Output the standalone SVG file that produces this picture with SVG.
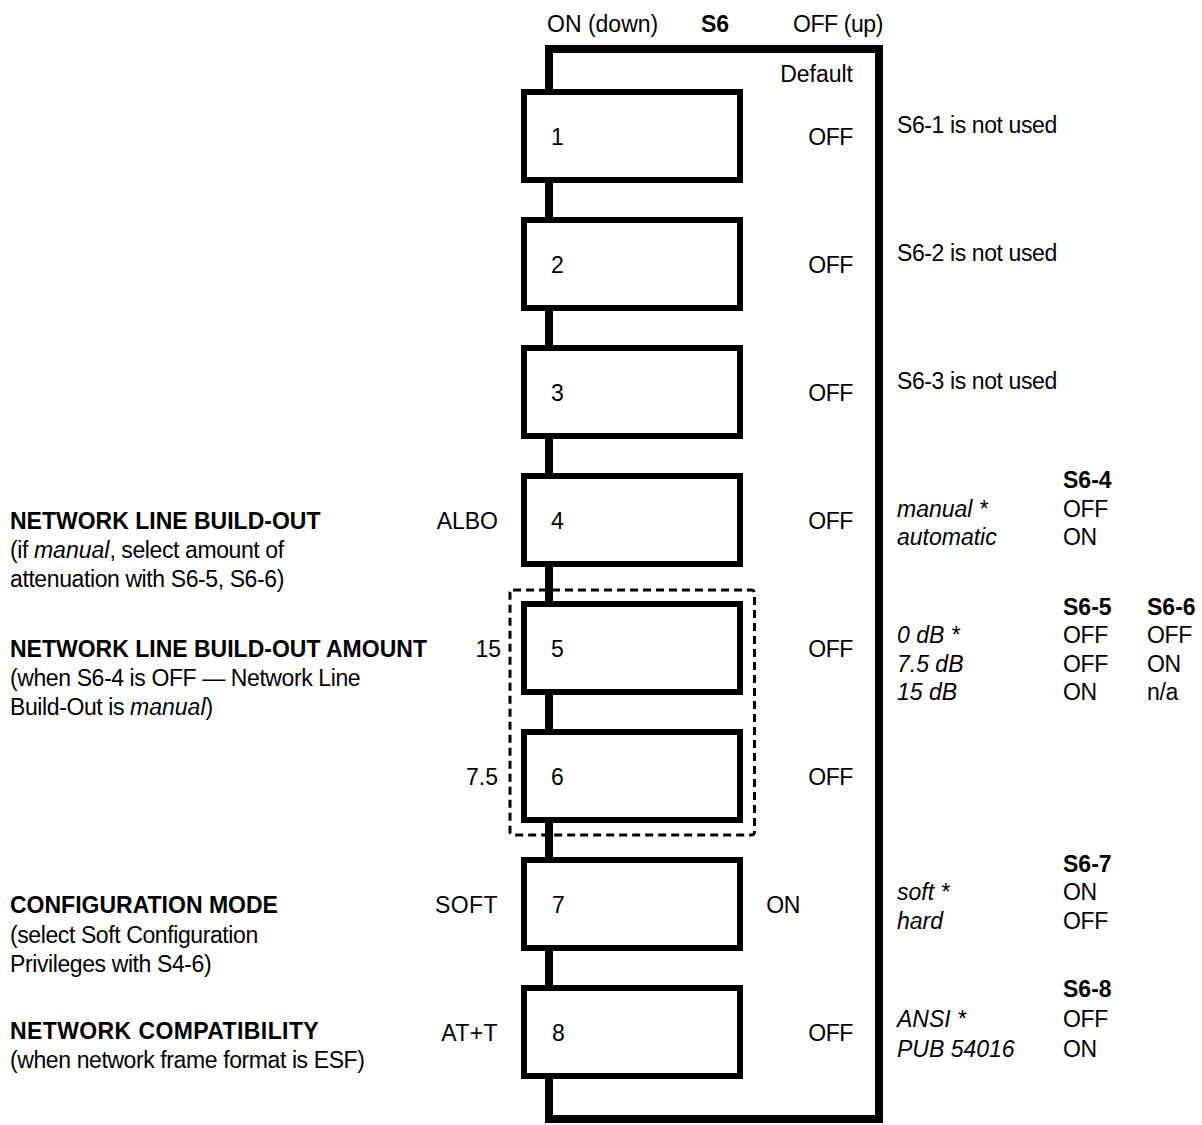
<svg xmlns="http://www.w3.org/2000/svg" width="1202" height="1125" viewBox="0 0 1202 1125">
<style>
text{font-family:"Liberation Sans",Arial,sans-serif;font-size:23px;fill:#000;letter-spacing:-0.4px}
.b{font-weight:bold;letter-spacing:0}
.i{font-style:italic;letter-spacing:0}
.w{letter-spacing:0.4px}
.n{letter-spacing:0}
.e{text-anchor:end}
.sw{fill:#fff;stroke:#000;stroke-width:6}
.frame{fill:none;stroke:#000;stroke-width:8}
.dash{fill:none;stroke:#000;stroke-width:3;stroke-dasharray:8 5}
</style>
<rect width="1202" height="1125" fill="#fff"/>
<g id="header">
<text x="547" y="32" class="n">ON (down)</text>
<text x="701" y="32" class="b">S6</text>
<text x="883" y="32" class="e">OFF (up)</text>
</g>
<g id="connectors">
<rect class="frame" x="549" y="49" width="330" height="1070"/>
<rect class="dash" x="510" y="590" width="244.5" height="245" rx="3"/>
</g>
<text x="853" y="82" class="e n">Default</text>
<g id="sw1"><rect class="sw" x="524" y="92" width="216" height="88"/><text x="551" y="145">1</text><text x="853" y="145" class="e">OFF</text></g>
<g id="sw2"><rect class="sw" x="524" y="220" width="216" height="88"/><text x="551" y="273">2</text><text x="853" y="273" class="e">OFF</text></g>
<g id="sw3"><rect class="sw" x="524" y="348" width="216" height="88"/><text x="551" y="401">3</text><text x="853" y="401" class="e">OFF</text></g>
<g id="sw4"><rect class="sw" x="524" y="476" width="216" height="88"/><text x="551" y="529">4</text><text x="853" y="529" class="e">OFF</text></g>
<g id="sw5"><rect class="sw" x="524" y="604" width="216" height="88"/><text x="551" y="657">5</text><text x="853" y="657" class="e">OFF</text></g>
<g id="sw6"><rect class="sw" x="524" y="732" width="216" height="88"/><text x="551" y="785">6</text><text x="853" y="785" class="e">OFF</text></g>
<g id="sw7"><rect class="sw" x="524" y="860" width="216" height="88"/><text x="552" y="913">7</text><text x="800" y="913" class="e">ON</text></g>
<g id="sw8"><rect class="sw" x="524" y="988" width="216" height="88"/><text x="552" y="1041">8</text><text x="853" y="1041" class="e">OFF</text></g>
<g id="notes">
<text x="897" y="133">S6-1 is not used</text>
<text x="897" y="261">S6-2 is not used</text>
<text x="897" y="389">S6-3 is not used</text>
<text x="1063" y="488" class="b">S6-4</text>
<text x="897" y="517" class="i">manual *</text><text x="1063" y="517">OFF</text>
<text x="897" y="545" class="i">automatic</text><text x="1063" y="545">ON</text>
<text x="1063" y="615" class="b">S6-5</text><text x="1147" y="615" class="b">S6-6</text>
<text x="897" y="643" class="i">0 dB *</text><text x="1063" y="643">OFF</text><text x="1147" y="643">OFF</text>
<text x="897" y="672" class="i">7.5 dB</text><text x="1063" y="672">OFF</text><text x="1147" y="672">ON</text>
<text x="897" y="700" class="i">15 dB</text><text x="1063" y="700">ON</text><text x="1147" y="700">n/a</text>
<text x="1063" y="872" class="b">S6-7</text>
<text x="897" y="900" class="i">soft *</text><text x="1063" y="900">ON</text>
<text x="897" y="929" class="i">hard</text><text x="1063" y="929">OFF</text>
<text x="1063" y="997" class="b">S6-8</text>
<text x="897" y="1027" class="i">ANSI *</text><text x="1063" y="1027">OFF</text>
<text x="897" y="1057" class="i">PUB 54016</text><text x="1063" y="1057">ON</text>
</g>
<g id="labels">
<text x="10" y="529" class="b">NETWORK LINE BUILD-OUT</text>
<text x="10" y="558">(if <tspan class="i">manual</tspan>, select amount of</text>
<text x="10" y="587">attenuation with S6-5, S6-6)</text>
<text x="498" y="529" class="e n">ALBO</text>
<text x="10" y="657" class="b">NETWORK LINE BUILD-OUT AMOUNT</text>
<text x="10" y="686">(when S6-4 is OFF — Network Line</text>
<text x="10" y="715">Build-Out is <tspan class="i">manual</tspan>)</text>
<text x="501" y="657" class="e n">15</text>
<text x="498" y="785" class="e n">7.5</text>
<text x="10" y="913" class="b">CONFIGURATION MODE</text>
<text x="10" y="943">(select Soft Configuration</text>
<text x="10" y="972">Privileges with S4-6)</text>
<text x="498" y="913" class="e w">SOFT</text>
<text x="10" y="1039" class="b w">NETWORK COMPATIBILITY</text>
<text x="10" y="1068">(when network frame format is ESF)</text>
<text x="498" y="1041" class="e w">AT+T</text>
</g>
</svg>
